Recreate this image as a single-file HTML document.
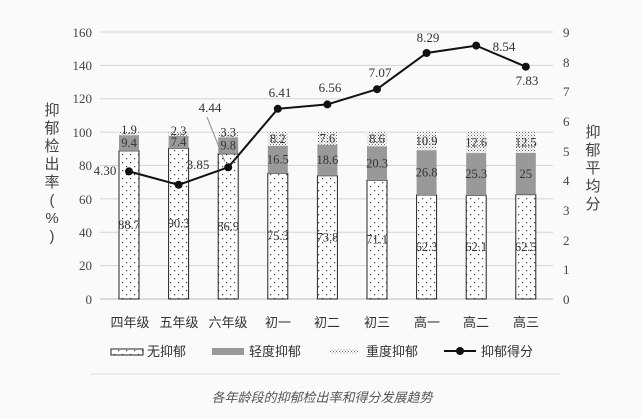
<!DOCTYPE html>
<html><head><meta charset="utf-8"><style>
body{margin:0;background:#fff}
svg{display:block;font-family:"Liberation Serif","Noto Serif CJK SC",serif}
.cj{font-family:"Liberation Sans","Noto Sans CJK SC",sans-serif}
</style></head><body>
<svg width="641" height="419" viewBox="0 0 641 419">
<defs>
<pattern id="d1" width="8" height="8" patternUnits="userSpaceOnUse"><rect width="8" height="8" fill="#fff"/><rect x="2" y="2" width="1.2" height="1.2" fill="#333"/><rect x="6" y="6" width="1.2" height="1.2" fill="#333"/></pattern>
<pattern id="d2" width="3" height="3" patternUnits="userSpaceOnUse"><rect width="3" height="3" fill="#fff"/><rect x="0" y="0" width="1" height="1" fill="#666"/><rect x="1.5" y="1.5" width="1" height="1" fill="#888"/></pattern>
</defs>
<rect width="641" height="419" fill="#fafafa"/>
<g stroke="#d4d4d4" stroke-width="1">
<line x1="100" x2="553" y1="32" y2="32"/><line x1="100" x2="553" y1="65.4" y2="65.4"/><line x1="100" x2="553" y1="98.8" y2="98.8"/><line x1="100" x2="553" y1="132.1" y2="132.1"/><line x1="100" x2="553" y1="165.5" y2="165.5"/><line x1="100" x2="553" y1="198.9" y2="198.9"/><line x1="100" x2="553" y1="232.3" y2="232.3"/><line x1="100" x2="553" y1="265.6" y2="265.6"/><line x1="100" x2="553" y1="299" y2="299" stroke="#bbb"/>
</g>
<g font-size="13" fill="#444" text-anchor="end">
<text x="92" y="37">160</text><text x="92" y="70">140</text><text x="92" y="103">120</text><text x="92" y="137">100</text><text x="92" y="170">80</text><text x="92" y="204">60</text><text x="92" y="237">40</text><text x="92" y="270">20</text><text x="92" y="304">0</text>
</g>
<g font-size="13" fill="#444">
<text x="563" y="37">9</text><text x="563" y="67">8</text><text x="563" y="96">7</text><text x="563" y="126">6</text><text x="563" y="156">5</text><text x="563" y="185">4</text><text x="563" y="215">3</text><text x="563" y="245">2</text><text x="563" y="274">1</text><text x="563" y="304">0</text>
</g>
<g class="cj" font-size="15" fill="#444" text-anchor="middle">
<text x="52" y="115">抑</text><text x="52" y="133">郁</text><text x="52" y="151">检</text><text x="52" y="169">出</text><text x="52" y="187">率</text><text x="52" y="205">(</text><text x="52" y="223">%</text><text x="52" y="241">)</text>
<text x="593" y="137">抑</text><text x="593" y="155">郁</text><text x="593" y="173">平</text><text x="593" y="191">均</text><text x="593" y="209">分</text>
</g>
<g id="bars" font-size="12.5" fill="#333" text-anchor="middle"></g>
<polyline fill="none" stroke="#111" stroke-width="2" points="129,171.4 178.6,184.8 228.2,167.3 277.8,108.8 327.4,104.4 377,89.2 426.6,53 476.2,45.6 525.8,66.7"/>
<g fill="#111"><circle cx="129" cy="171.4" r="4"/><circle cx="178.6" cy="184.8" r="4"/><circle cx="228.2" cy="167.3" r="4"/><circle cx="277.8" cy="108.8" r="4"/><circle cx="327.4" cy="104.4" r="4"/><circle cx="377" cy="89.2" r="4"/><circle cx="426.6" cy="53" r="4"/><circle cx="476.2" cy="45.6" r="4"/><circle cx="525.8" cy="66.7" r="4"/></g>
<line x1="207" y1="117" x2="225" y2="162" stroke="#888"/>
<g font-size="13" fill="#333" text-anchor="middle">
<text x="105" y="175">4.30</text><text x="198" y="169">3.85</text><text x="210" y="112">4.44</text><text x="280" y="97">6.41</text><text x="330" y="92">6.56</text><text x="380" y="77">7.07</text><text x="428" y="42">8.29</text><text x="504" y="51">8.54</text><text x="527" y="85">7.83</text>
</g>
<g class="cj" font-size="13" fill="#333" text-anchor="middle">
<text x="130" y="327">四年级</text><text x="179" y="327">五年级</text><text x="228" y="327">六年级</text><text x="278" y="327">初一</text><text x="327" y="327">初二</text><text x="377" y="327">初三</text><text x="427" y="327">高一</text><text x="476" y="327">高二</text><text x="526" y="327">高三</text>
</g>
<rect x="111" y="349" width="32" height="6" fill="url(#d1)" stroke="#222"/>
<rect x="212" y="348" width="32" height="7" fill="#999"/>
<rect x="330" y="349" width="28" height="5" fill="url(#d2)"/>
<line x1="444" y1="351" x2="476" y2="351" stroke="#111" stroke-width="2"/><circle cx="460" cy="351" r="4" fill="#111"/>
<g class="cj" font-size="13" fill="#333">
<text x="147" y="356">无抑郁</text><text x="249" y="356">轻度抑郁</text><text x="366" y="356">重度抑郁</text><text x="481" y="356">抑郁得分</text>
</g>
<line x1="90" y1="374" x2="560" y2="374" stroke="#ddd"/>
<text class="cj" x="322" y="402" font-size="13" fill="#555" text-anchor="middle" font-style="italic">各年龄段的抑郁检出率和得分发展趋势</text>
</svg>
<script>
var d=[[88.7,9.4,1.9],[90.3,7.4,2.3],[86.9,9.8,3.3],[75.3,16.5,8.2],[73.8,18.6,7.6],[71.1,20.3,8.6],[62.3,26.8,10.9],[62.1,25.3,12.6],[62.5,25,12.5]];
var g=document.getElementById('bars'),s='',k=299/160*0+1.67;
d.forEach(function(v,i){var cx=129+49.6*i,x=cx-10,y0=299,a=v[0]*1.67,b=v[1]*1.67,c=v[2]*1.67;
s+='<rect x="'+x+'" y="'+(y0-a)+'" width="20" height="'+a+'" fill="url(#d1)" stroke="#222"/>';
s+='<rect x="'+x+'" y="'+(y0-a-b)+'" width="20" height="'+b+'" fill="#999"/>';
s+='<rect x="'+x+'" y="'+(y0-a-b-c)+'" width="20" height="'+c+'" fill="url(#d2)"/>';
s+='<text x="'+cx+'" y="'+(y0-a/2+4)+'">'+v[0]+'</text>';
s+='<text x="'+cx+'" y="'+(y0-a-b/2+4)+'">'+v[1]+'</text>';
s+='<text x="'+cx+'" y="'+(y0-a-b-Math.max(c/2,5)+4)+'">'+v[2]+'</text>';});
g.innerHTML=s;
</script>
</body></html>
